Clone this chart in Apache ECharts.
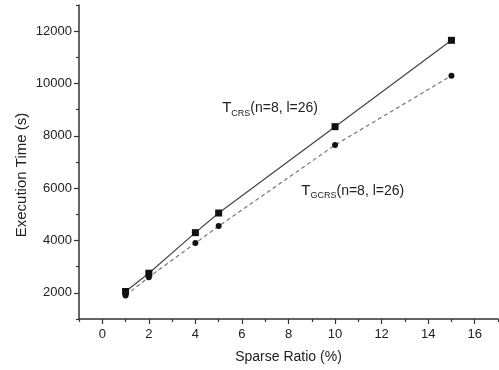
<!DOCTYPE html>
<html>
<head>
<meta charset="utf-8">
<script src="https://cdn.jsdelivr.net/npm/echarts@6/dist/echarts.min.js"></script>
<style>
html,body{margin:0;padding:0;background:#fff;}
#c{width:499px;height:370px;}
</style>
</head>
<body>
<div id="c"></div>
<script>
var ratios = [1, 2, 4, 5, 10, 15];
var tCRS = [2050, 2750, 4300, 5050, 8350, 11650];
var tGCRS = [1900, 2600, 3900, 4550, 7650, 10300];
var xMajorTicks = [0, 2, 4, 6, 8, 10, 12, 14, 16];
var xMinorTicks = [-1, 1, 3, 5, 7, 9, 11, 13, 15, 17];
var yMajorTicks = [2000, 4000, 6000, 8000, 10000, 12000];
var yMinorTicks = [1000, 3000, 5000, 7000, 9000, 11000, 13000];

var font = '"Liberation Sans", Arial, sans-serif';
var ink = '#222';

function pairs(xs, ys) { return xs.map(function (x, i) { return [x, ys[i]]; }); }
function plain(v) { return String(v); }

var rich = {
  t: {fontSize: 15, fontFamily: font, color: ink},
  s: {fontSize: 9, fontFamily: font, color: ink, verticalAlign: 'bottom', padding: [10, 0, 0, 0]},
  m: {fontSize: 14, fontFamily: font, color: ink}
};

var chart = echarts.init(document.getElementById('c'), null, {renderer: 'canvas'});
chart.setOption({
  animation: false,
  backgroundColor: '#fff',
  grid: {left: 79, right: 1, top: 5, bottom: 51, containLabel: false},
  xAxis: [{
    type: 'value', min: -1, max: 17, interval: 1,
    name: 'Sparse Ratio (%)', nameLocation: 'middle', nameGap: 31,
    nameTextStyle: {fontSize: 14, fontFamily: font, color: ink},
    axisLine: {onZero: false, lineStyle: {color: '#333', width: 1.5}},
    axisTick: {customValues: xMajorTicks, length: 5, lineStyle: {color: '#333', width: 1.2}},
    axisLabel: {customValues: xMajorTicks, formatter: plain, fontSize: 13, fontFamily: font, color: ink, margin: 9},
    splitLine: {show: false}
  }, {
    type: 'value', min: -1, max: 17, interval: 1, position: 'bottom',
    axisLine: {show: false, onZero: false},
    axisTick: {customValues: xMinorTicks, length: 3, lineStyle: {color: '#333', width: 1.2}},
    axisLabel: {show: false},
    splitLine: {show: false}
  }],
  yAxis: [{
    type: 'value', min: 1000, max: 13000, interval: 1000,
    name: 'Execution Time (s)', nameLocation: 'middle', nameGap: 50, nameRotate: 90,
    nameMoveOverlap: false,
    nameTextStyle: {fontSize: 15, fontFamily: font, color: ink, padding: [0, 26, 0, 0]},
    axisLine: {onZero: false, lineStyle: {color: '#333', width: 1.5}},
    axisTick: {customValues: yMajorTicks, length: 5, lineStyle: {color: '#333', width: 1.2}},
    axisLabel: {customValues: yMajorTicks, formatter: plain, fontSize: 13, fontFamily: font, color: ink, margin: 7},
    splitLine: {show: false}
  }, {
    type: 'value', min: 1000, max: 13000, interval: 1000, position: 'left',
    axisLine: {show: false, onZero: false},
    axisTick: {customValues: yMinorTicks, length: 3, lineStyle: {color: '#333', width: 1.2}},
    axisLabel: {show: false},
    splitLine: {show: false}
  }],
  series: [{
    name: 'TCRS', type: 'line', data: pairs(ratios, tCRS),
    symbol: 'rect', symbolSize: 7,
    itemStyle: {color: '#111'},
    lineStyle: {color: '#444', width: 1.2, type: 'solid'},
    markPoint: {
      symbol: 'circle', symbolSize: 0,
      data: [{coord: [5.15, 9050]}],
      label: {show: true, position: 'right', distance: 0, formatter: '{t|T}{s|CRS}{m|(n=8, l=26)}', rich: rich}
    }
  }, {
    name: 'TGCRS', type: 'line', data: pairs(ratios, tGCRS),
    symbol: 'circle', symbolSize: 6,
    itemStyle: {color: '#111'},
    lineStyle: {color: '#777', width: 1.2, type: [4, 3]},
    markPoint: {
      symbol: 'circle', symbolSize: 0,
      data: [{coord: [8.55, 5900]}],
      label: {show: true, position: 'right', distance: 0, formatter: '{t|T}{s|GCRS}{m|(n=8, l=26)}', rich: rich}
    }
  }]
});
</script>
</body>
</html>
